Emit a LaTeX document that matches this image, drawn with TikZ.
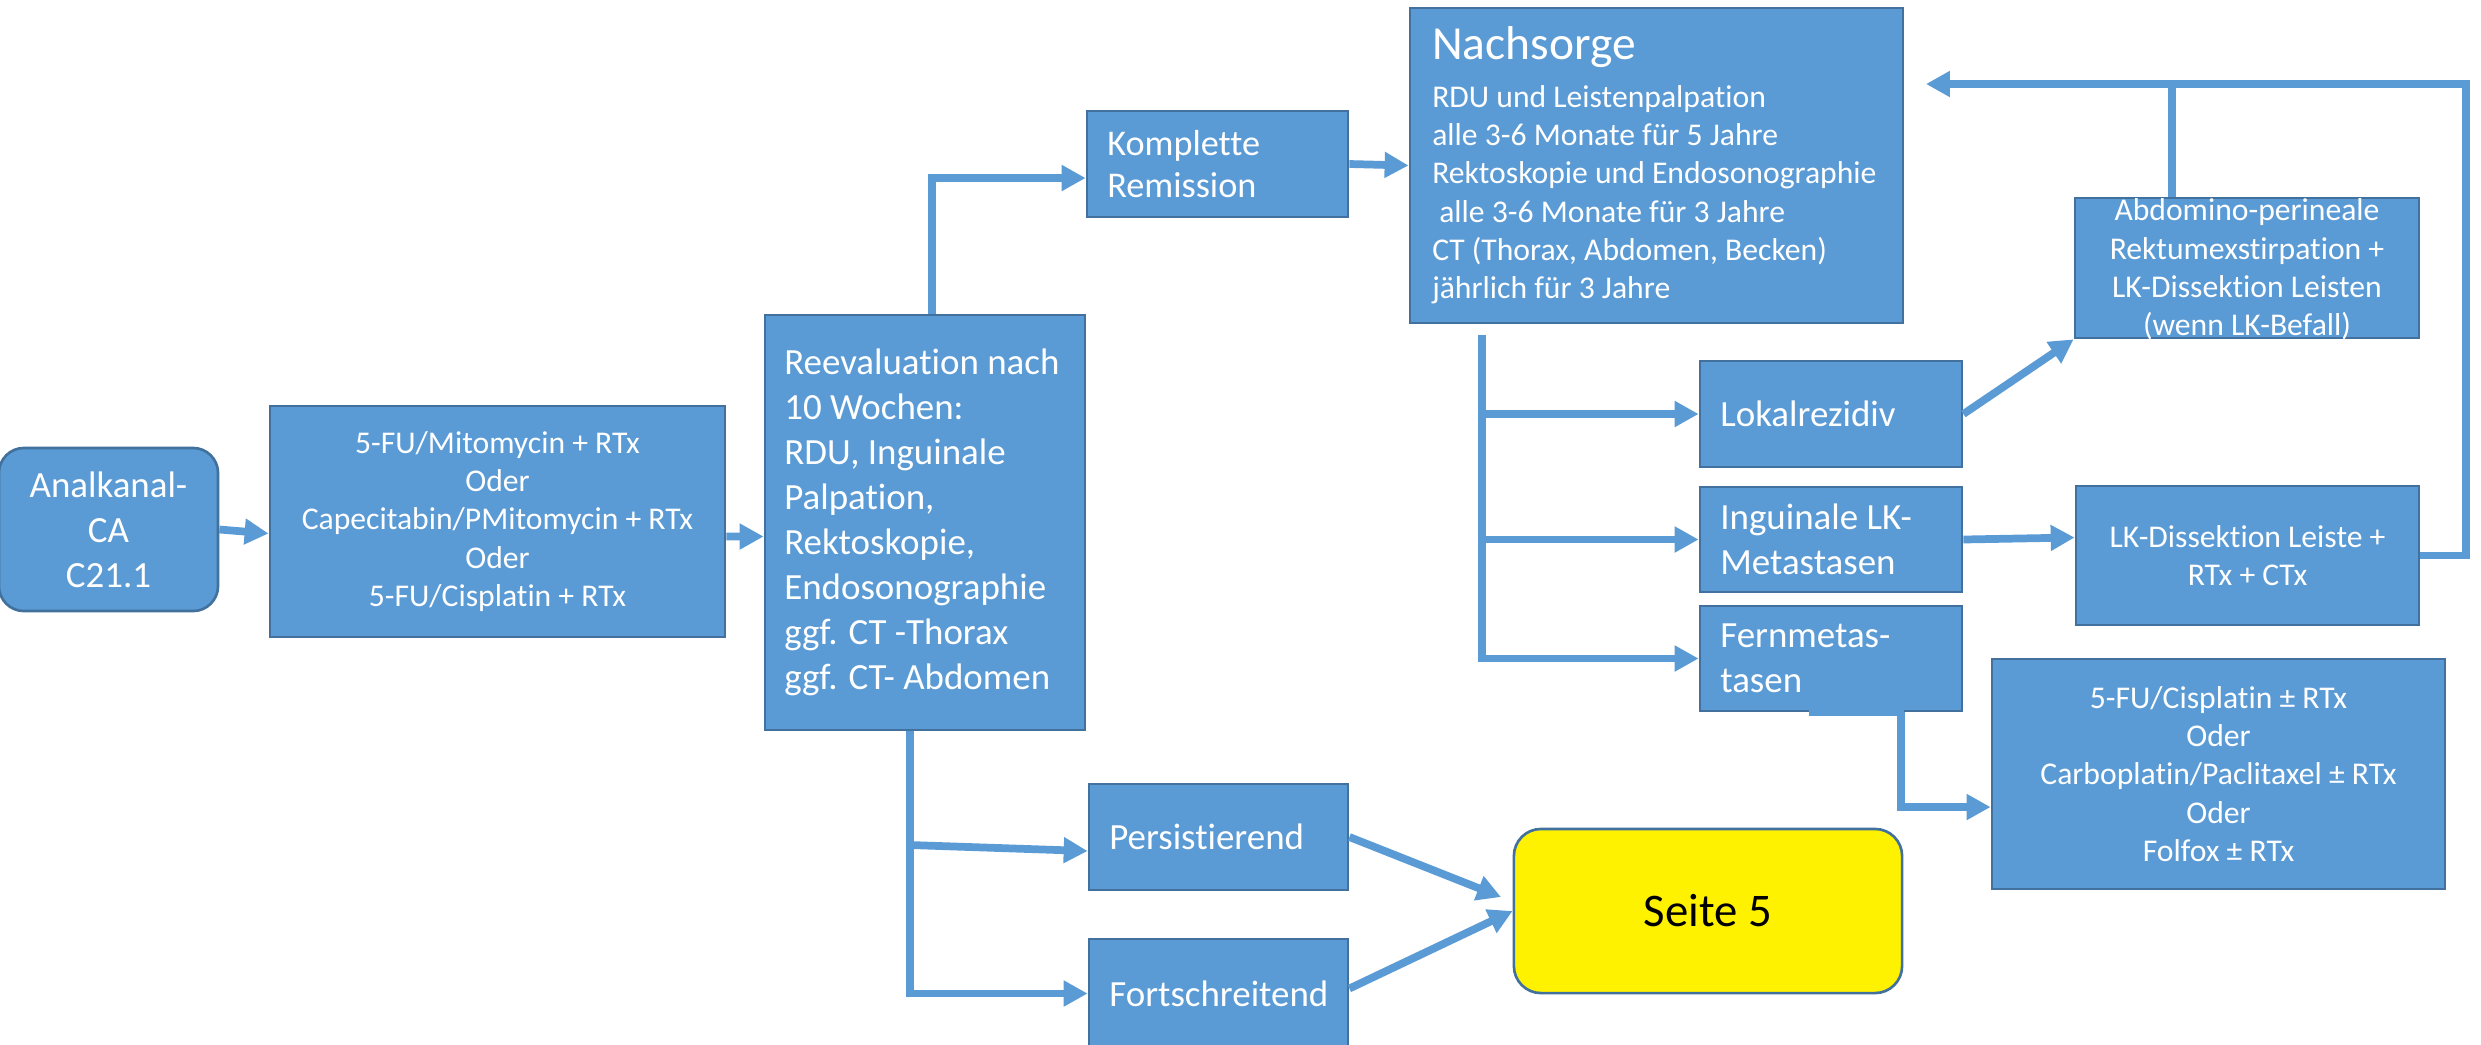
\documentclass[tikz,border=0pt]{standalone}
\usepackage{fontspec}
\setmainfont{Carlito}[Ligatures=NoCommon]
\usetikzlibrary{arrows.meta,calc}
\definecolor{boxc}{HTML}{5B9BD5}
\definecolor{bordc}{HTML}{41719C}
\begin{document}
\begin{tikzpicture}[x=0.01cm,y=-0.01cm,
  box/.style={draw=bordc, fill=boxc, line width=0.75pt, inner sep=0pt, text=white, align=center},
  conn/.style={draw=boxc, line width=2.2pt, -{Triangle[width=7pt,length=6.8pt]}},
  plainline/.style={draw=boxc, line width=2.2pt},
  lbl/.style={inner sep=0pt, text=white, align=left, anchor=west},
  fA/.style={font=\fontsize{10.5}{12.8}\selectfont},
  fB/.style={font=\fontsize{9}{10.9}\selectfont}]
\fill[white] (0,0) rectangle (2481,1044);
\useasboundingbox (0,0) rectangle (2481,1044);

% boxes
\node[box, rounded corners=2.5mm, minimum width=21.9mm, minimum height=16.3mm, fA] (ana) at (108.5,529.5) {Analkanal-\\CA\\C21.1};
\node[box, minimum width=45.5mm, minimum height=23.1mm, fB] (chemo) at (497.5,521.5) {5-FU/Mitomycin + RTx\\Oder\\Capecitabin/PMitomycin + RTx\\Oder\\5-FU/Cisplatin + RTx};
\node[box, minimum width=32mm, minimum height=41.5mm] (reeval) at (925,522.5) {};
\node[lbl, fA] (reevalT) at ([xshift=2mm]reeval.west) {Reevaluation nach\\10 Wochen:\\RDU, Inguinale\\Palpation,\\Rektoskopie,\\Endosonographie\\ggf. CT -Thorax\\ggf. CT- Abdomen};
\node[box, minimum width=26.1mm, minimum height=10.6mm] (kompl) at (1217.5,164) {};
\node[lbl, font=\fontsize{10.3}{12.2}\selectfont] (komplT) at ([xshift=2.1mm]kompl.west) {Komplette\\Remission};
\node[box, minimum width=49.3mm, minimum height=31.5mm] (nach) at (1656.5,165.5) {};
\node[lbl, fB] (nachT) at ([xshift=2.3mm]nach.west) {{\fontsize{13.5}{16}\selectfont Nachsorge}\\[2.5pt]RDU und Leistenpalpation\\alle 3-6 Monate für 5 Jahre\\Rektoskopie und Endosonographie\\\hspace*{2pt}alle 3-6 Monate für 3 Jahre\\CT (Thorax, Abdomen, Becken)\\jährlich für 3 Jahre};
\node[box, minimum width=34.4mm, minimum height=14mm] (abd) at (2247,268) {};
\node[inner sep=0pt, text=white, align=center, fB] (abdT) at (2247,269.5) {Abdomino-perineale\\Rektumexstirpation +\\LK-Dissektion Leisten\\(wenn LK-Befall)};
\node[box, minimum width=26.2mm, minimum height=10.6mm] (lokal) at (1831,414) {};
\node[lbl, fA] (lokalT) at ([xshift=2.1mm]lokal.west) {Lokalrezidiv};
\node[box, minimum width=26.2mm, minimum height=10.5mm] (ingu) at (1831,539.5) {};
\node[lbl, fA] (inguT) at ([xshift=2.1mm]ingu.west) {Inguinale LK-\\Metastasen};
\node[box, minimum width=26.2mm, minimum height=10.5mm] (fern) at (1831,658.5) {};
\node[lbl, fA] (fernT) at ([xshift=2.1mm]fern.west) {Fernmetas-\\tasen};
\fill[boxc] (1809,709) rectangle (1904,716);
\node[box, minimum width=34.3mm, minimum height=13.9mm, fB] (lkd) at (2247.5,555.5) {LK-Dissektion Leiste +\\RTx + CTx};
\node[box, minimum width=45.3mm, minimum height=23mm, fB] (fu5) at (2218.5,774) {5-FU/Cisplatin ± RTx\\Oder\\Carboplatin/Paclitaxel ± RTx\\Oder\\Folfox ± RTx};
\node[box, minimum width=25.9mm, minimum height=10.6mm] (pers) at (1218.5,837) {};
\node[lbl, fA] (persT) at ([xshift=2.1mm]pers.west) {Persistierend};
\node[box, minimum width=25.9mm, minimum height=10.9mm] (fort) at (1218.5,993.5) {};
\node[lbl, fA] (fortT) at ([xshift=2.1mm]fort.west) {Fortschreitend};
\node[box, fill=yellow, rounded corners=2.7mm, minimum width=38.8mm, minimum height=16.4mm, text=black, font=\fontsize{13.3}{16}\selectfont] (seite) at (1708,911) {Seite 5};

% connectors
\draw[conn] (ana.east) -- ([yshift=-1.2mm]chemo.west);
\draw[conn] ([yshift=-1.5mm]chemo.east) -- ([yshift=-1.4mm]reeval.west);
\draw[conn] ([xshift=0.7mm]reeval.north) |- ([yshift=-1.4mm]kompl.west);
\draw[conn] (kompl.east) -- (nach.west);
\coordinate (ntr) at (1482,335);
\draw[conn] (ntr) |- (lokal.west);
\draw[conn] (ntr) |- (ingu.west);
\draw[conn] (ntr) |- (fern.west);
\draw[conn] (lokal.east) -- (abd.south west);
\draw[conn] (ingu.east) -- ([yshift=1.8mm]lkd.west);
\coordinate (loopTR) at (2466,84);
\coordinate (nachTip) at (1926,84);
\draw[conn] (lkd.east) -| (loopTR) -- (nachTip);
\coordinate (abdUp) at ([xshift=-7.5mm]abd.north);
\draw[plainline] (abdUp) -- (abdUp |- loopTR);
\draw[conn] ([xshift=7mm]fern.south) |- ([yshift=-3.3mm]fu5.west);
\coordinate (rtr) at ([xshift=-1.5mm]reeval.south);
\draw[conn] (rtr) |- (fort.west);
\draw[conn] (rtr |- 0,845) -- ([yshift=-1.4mm]pers.west);
\coordinate (sTip1) at (1501,897);
\draw[conn] (pers.east) -- (sTip1);
\draw[conn] ([yshift=0.5mm]fort.east) -- (seite.west);
\end{tikzpicture}
\end{document}
